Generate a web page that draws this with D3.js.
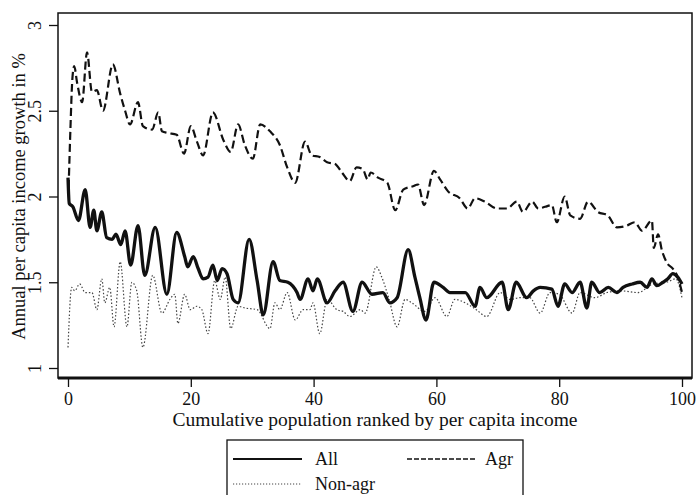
<!DOCTYPE html>
<html><head><meta charset="utf-8">
<script src="https://cdn.jsdelivr.net/npm/d3@7"></script>
<style>
html,body{margin:0;padding:0;background:#fff;}
text{font-family:"Liberation Serif","DejaVu Serif","Times New Roman",Times,serif;fill:#111;}
</style></head>
<body><svg id="c" width="698" height="495"></svg>
<script>
const xTicks = [0, 20, 40, 60, 80, 100];
const yTicks = [1, 1.5, 2, 2.5, 3];
const yTickLabels = ["1", "1.5", "2", "2.5", "3"];
const seriesNames = ["All", "Agr", "Non-agr"];

const allX = [0,0.2,0.8,1.7,2.8,3.6,4.2,4.7,5.5,6.3,
  7.2,7.8,8.6,9.3,10.2,11.4,12.5,14.2,16.1,17.7,
  19.0,19.5,20.4,21.2,22.0,22.8,23.6,24.3,25.1,25.9,
  26.9,27.7,29.5,30.8,31.8,33.4,34.5,35.8,37.3,37.8,
  39.1,39.9,40.6,42.2,43.5,44.8,46.4,47.9,49.5,51.3,
  52.4,53.6,55.4,56.5,57.3,58.3,59.6,61.1,62.2,63.5,
  64.7,66.3,67.1,68.2,70.7,71.7,73.0,74.7,75.8,76.9,
  78.8,79.8,80.9,82.1,83.4,84.5,85.3,86.6,88.0,89.4,
  90.4,91.9,93.2,94.3,95.1,95.9,96.9,97.7,98.5,99.3,100];
const allY = [2.11,1.96,1.94,1.86,2.04,1.82,1.92,1.80,1.91,1.76,
  1.75,1.78,1.72,1.80,1.60,1.83,1.54,1.82,1.43,1.79,
  1.65,1.59,1.65,1.58,1.52,1.53,1.60,1.51,1.58,1.55,
  1.40,1.38,1.75,1.51,1.31,1.62,1.51,1.50,1.44,1.40,
  1.52,1.45,1.52,1.38,1.45,1.50,1.33,1.50,1.43,1.44,
  1.38,1.41,1.69,1.53,1.41,1.28,1.50,1.47,1.44,1.44,
  1.44,1.36,1.47,1.41,1.50,1.34,1.50,1.41,1.45,1.47,
  1.46,1.36,1.49,1.44,1.50,1.35,1.50,1.44,1.47,1.44,
  1.47,1.49,1.50,1.47,1.52,1.48,1.50,1.52,1.55,1.53,1.49];

const agrX = [0.1,0.4,0.7,1.0,1.5,2.3,3.1,3.9,4.7,5.7,
  7.3,8.5,9.3,10.1,11.4,12.2,13.7,14.7,15.3,16.3,
  17.7,18.9,20.0,21.0,22.0,23.6,25.3,26.5,27.7,28.8,
  30.1,31.3,32.9,34.5,35.7,37.0,38.6,39.7,41.0,42.2,
  43.5,44.6,45.9,47.0,48.0,48.8,49.3,50.5,52.0,53.3,
  54.6,56.2,57.0,58.0,59.6,60.6,61.9,63.8,65.1,66.3,
  67.9,69.9,71.5,73.1,74.1,75.6,76.6,77.7,78.8,79.6,
  80.9,81.8,83.4,84.7,86.3,87.9,89.4,91.0,92.3,93.5,
  95.1,95.4,96.1,96.7,97.6,98.5,99.3,100];
const agrY = [2.05,2.40,2.68,2.76,2.66,2.55,2.84,2.61,2.62,2.50,
  2.77,2.60,2.50,2.42,2.55,2.41,2.39,2.49,2.38,2.37,
  2.36,2.25,2.41,2.32,2.24,2.49,2.33,2.26,2.42,2.30,
  2.22,2.42,2.38,2.30,2.17,2.08,2.32,2.24,2.23,2.20,
  2.19,2.14,2.09,2.17,2.16,2.10,2.14,2.11,2.08,1.92,
  2.04,2.06,2.07,1.95,2.15,2.10,2.03,1.99,1.93,1.99,
  1.97,1.93,1.93,1.97,1.91,1.97,1.93,1.94,1.95,1.85,
  2.00,1.89,1.87,1.97,1.91,1.89,1.82,1.83,1.85,1.80,
  1.86,1.70,1.78,1.69,1.61,1.58,1.53,1.44];

const nonX = [0.0,0.6,1.1,1.9,2.8,3.9,4.7,5.5,6.0,6.8,
  7.5,8.5,9.6,10.4,11.2,12.2,13.8,15.3,16.6,17.4,
  17.9,19.0,19.9,21.0,21.8,22.8,23.9,24.8,25.6,26.5,
  27.7,28.8,30.8,32.9,33.7,34.5,35.7,37.0,38.3,39.4,
  39.9,41.0,42.2,43.8,44.8,45.9,47.6,48.4,50.2,51.1,
  52.3,53.6,54.9,56.0,58.1,59.8,61.7,63.0,64.7,66.5,
  68.2,70.4,72.0,73.6,75.2,76.9,78.5,80.0,82.1,83.4,
  85.8,87.8,90.0,92.8,95.3,97.5,99.0,100];
const nonY = [1.12,1.47,1.45,1.49,1.44,1.44,1.34,1.52,1.38,1.47,
  1.24,1.62,1.24,1.50,1.45,1.12,1.54,1.32,1.40,1.43,
  1.26,1.43,1.34,1.36,1.34,1.20,1.51,1.40,1.53,1.23,
  1.36,1.35,1.34,1.23,1.38,1.34,1.44,1.28,1.34,1.34,
  1.38,1.20,1.40,1.34,1.33,1.30,1.34,1.32,1.59,1.53,
  1.40,1.24,1.40,1.38,1.33,1.41,1.30,1.40,1.38,1.34,
  1.30,1.44,1.40,1.41,1.41,1.32,1.44,1.43,1.32,1.44,
  1.41,1.44,1.45,1.44,1.49,1.50,1.52,1.41];

const FONT = '"Liberation Serif","DejaVu Serif","Times New Roman",Times,serif';
const svg = d3.select("#c");
const x = d3.scaleLinear().domain([0, 100]).range([68, 682]);
const y = d3.scaleLinear().domain([1, 3]).range([368, 25]);
const frame = {l: 58, t: 13, r: 692, b: 378};

function pts(xs, ys){ const n = Math.min(xs.length, ys.length); return d3.range(n).map(i => [xs[i], ys[i]]); }
const line = d3.line().x(d => x(d[0])).y(d => y(d[1])).curve(d3.curveMonotoneX);

// frame
svg.append("rect").attr("x", frame.l).attr("y", frame.t)
  .attr("width", frame.r - frame.l).attr("height", frame.b - frame.t)
  .attr("fill", "none").attr("stroke", "#111").attr("stroke-width", 1.5);
svg.append("line").attr("x1", frame.l).attr("x2", frame.r).attr("y1", frame.b).attr("y2", frame.b)
  .attr("stroke", "#111").attr("stroke-width", 3);

// x axis
const xAxis = d3.axisBottom(x).tickValues(xTicks).tickSize(9).tickPadding(5).tickFormat(d3.format("d"));
const gx = svg.append("g").attr("transform", `translate(0,${frame.b})`).call(xAxis);
gx.select(".domain").remove();
gx.selectAll(".tick line").attr("stroke", "#111").attr("stroke-width", 1.3);
gx.selectAll(".tick text").attr("font-size", 18).attr("font-family", FONT).attr("fill", "#111");

// y axis
const yAxis = d3.axisLeft(y).tickValues(yTicks).tickSize(9).tickFormat((d, i) => yTickLabels[i]);
const gy = svg.append("g").attr("transform", `translate(${frame.l},0)`).call(yAxis);
gy.select(".domain").remove();
gy.selectAll(".tick line").attr("stroke", "#111").attr("stroke-width", 1.3);
gy.selectAll(".tick text").attr("font-size", 18).attr("font-family", FONT).attr("fill", "#111")
  .attr("x", null).attr("dy", null).attr("text-anchor", "middle")
  .attr("transform", "translate(-17,0) rotate(-90)");

// axis titles
svg.append("text").attr("x", x(50)).attr("y", 426).attr("text-anchor", "middle")
  .attr("font-family", FONT).attr("font-size", 19.5).text("Cumulative population ranked by per capita income");
svg.append("text").attr("transform", `translate(25,${(y(1)+y(3))/2}) rotate(-90)`).attr("text-anchor", "middle")
  .attr("font-family", FONT).attr("font-size", 18.5).text("Annual per capita income growth in %");

// series
const styles = {
  "All": {w: 3.3, dash: null, col: "#111"},
  "Agr": {w: 2.2, dash: "8,4", col: "#111"},
  "Non-agr": {w: 1.2, dash: "1.5,2", col: "#444"}
};
const data = {"Non-agr": pts(nonX, nonY), "Agr": pts(agrX, agrY), "All": pts(allX, allY)};
["Non-agr", "Agr", "All"].forEach(k => {
  svg.append("path").datum(data[k]).attr("d", line).attr("fill", "none")
    .attr("stroke", styles[k].col).attr("stroke-width", styles[k].w)
    .attr("stroke-dasharray", styles[k].dash).attr("stroke-linejoin", "round");
});

// legend
const lg = svg.append("g");
lg.append("rect").attr("x", 227).attr("y", 440).attr("width", 296).attr("height", 80)
  .attr("fill", "none").attr("stroke", "#111").attr("stroke-width", 1.3);
const legendItems = [
  {name: seriesNames[0], lx: 233, ly: 459, tx: 315, ty: 465, dash: null, w: 2, col: "#111"},
  {name: seriesNames[1], lx: 407, ly: 459, tx: 485, ty: 465, dash: "5,2", w: 1.3, col: "#111"},
  {name: seriesNames[2], lx: 233, ly: 484, tx: 315, ty: 490, dash: "1.2,1.8", w: 1, col: "#444"}
];
legendItems.forEach(it => {
  lg.append("line").attr("x1", it.lx).attr("x2", it.lx + 69).attr("y1", it.ly).attr("y2", it.ly)
    .attr("stroke", it.col).attr("stroke-width", it.w).attr("stroke-dasharray", it.dash);
  lg.append("text").attr("x", it.tx).attr("y", it.ty).attr("font-family", FONT).attr("font-size", 18).text(it.name);
});
</script></body></html>
